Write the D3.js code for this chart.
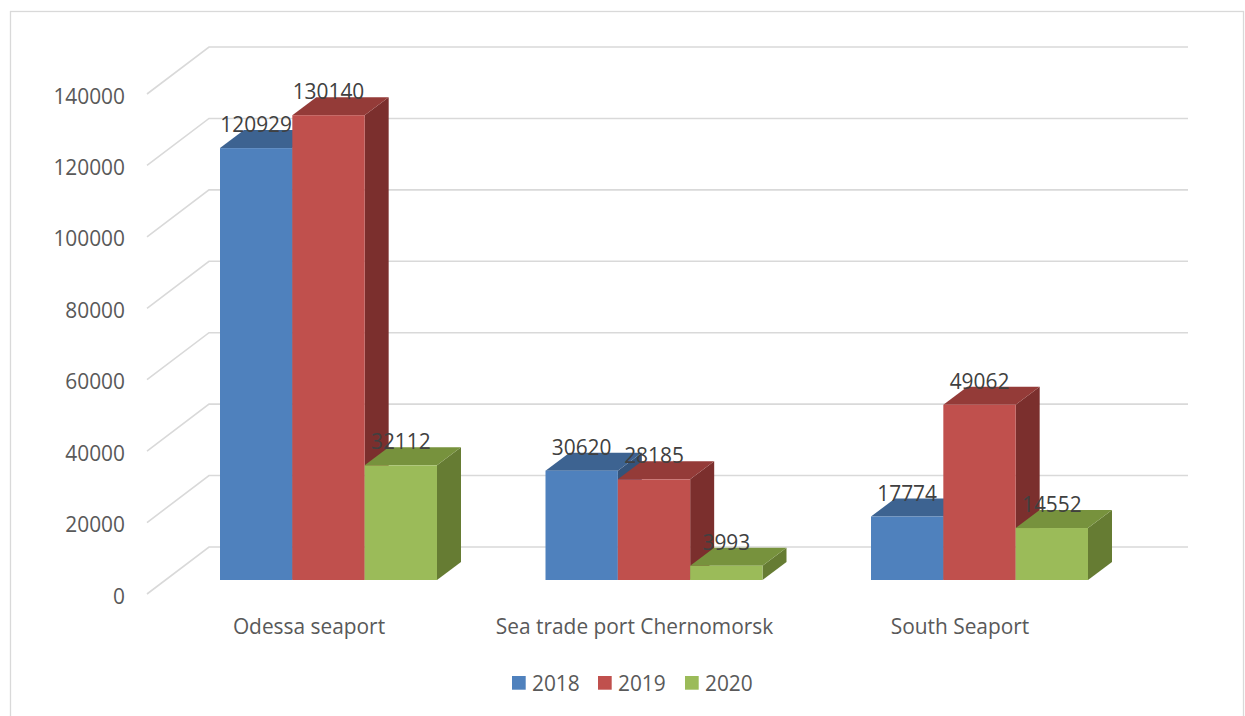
<!DOCTYPE html>
<html>
<head>
<meta charset="utf-8">
<script src="https://cdn.jsdelivr.net/npm/d3@7"></script>
<style>
  html, body { margin: 0; padding: 0; background: #fff; }
  svg { display: block; }
</style>
</head>
<body>
<svg id="chart" width="1245" height="716"></svg>
<script>
// ---- data ----
const categories = ["Odessa seaport", "Sea trade port Chernomorsk", "South Seaport"];
const years = ["2018", "2019", "2020"];
const values2018 = [120929, 30620, 17774];
const values2019 = [130140, 28185, 49062];
const values2020 = [32112, 3993, 14552];
const yTicks = [0, 20000, 40000, 60000, 80000, 100000, 120000, 140000];

const seriesValues = [values2018, values2019, values2020];
const colors = {
  front: ["#4F81BD", "#C0504D", "#9BBB59"],
  top:   ["#3D6391", "#943B38", "#77923D"],
  side:  ["#33537A", "#7B2F2D", "#667C33"]
};

// ---- layout ----
const svg = d3.select("#chart");
const FONT = "'Open Sans', 'Noto Sans', sans-serif";
const textColor = "#595959";
const gridColor = "#D9D9D9";

const backLeft = 209, backRight = 1188, backZeroY = 547;
const wallDx = -62, wallDy = 47;          // side wall (front end offset)
const frontZeroY = 580;                    // bar front faces base
const depthDx = 24, depthDy = -18;         // bar depth vector

const yH = d3.scaleLinear().domain([0, 140000]).range([0, 500]);

const x0 = d3.scaleBand().domain(categories)
  .range([165.75, 1142.25]).paddingInner(1/3).paddingOuter(1/6);
const x1 = d3.scaleBand().domain(years).range([0, x0.bandwidth()]);

// measure font size so that "140000" is ~71.7px wide
const probe = svg.append("text").attr("font-family", FONT).attr("font-size", 100).text("140000");
const pw = probe.node().getComputedTextLength();
probe.remove();
const fs = 100 * 71.7 / pw;

// border
svg.append("rect")
  .attr("x", 10.5).attr("y", 11.5).attr("width", 1233).attr("height", 720)
  .attr("fill", "none").attr("stroke", gridColor).attr("stroke-width", 1.3);

// gridlines: back wall + side wall
const grid = svg.append("g").attr("stroke", gridColor).attr("stroke-width", 1.6).attr("fill", "none");
yTicks.forEach(t => {
  const yb = backZeroY - yH(t);
  grid.append("path")
    .attr("d", `M${backRight},${yb}H${backLeft}L${backLeft + wallDx},${yb + wallDy}`);
});

// tick labels
svg.append("g").selectAll("text").data(yTicks).join("text")
  .attr("x", 125)
  .attr("y", d => backZeroY - yH(d) + wallDy + 1.5)
  .attr("text-anchor", "end")
  .attr("dominant-baseline", "central")
  .attr("font-family", FONT).attr("font-size", fs).attr("fill", textColor)
  .text(d => d);

// bars
const barsG = svg.append("g");
const labels = [];
categories.forEach((c, ci) => {
  years.forEach((yr, si) => {
    const v = seriesValues[si][ci];
    const xl = x0(c) + x1(yr);
    const xr = xl + x1.bandwidth();
    const yt = frontZeroY - yH(v);
    const yb = frontZeroY;
    // side face
    barsG.append("path")
      .attr("d", `M${xr},${yb}L${xr + depthDx},${yb + depthDy}L${xr + depthDx},${yt + depthDy}L${xr},${yt}Z`)
      .attr("fill", colors.side[si]);
    // top face
    barsG.append("path")
      .attr("d", `M${xl},${yt}L${xr},${yt}L${xr + depthDx},${yt + depthDy}L${xl + depthDx},${yt + depthDy}Z`)
      .attr("fill", colors.top[si]);
    // front face
    barsG.append("rect")
      .attr("x", xl).attr("y", yt).attr("width", x1.bandwidth()).attr("height", yb - yt)
      .attr("fill", colors.front[si]);
    labels.push({ v, x: (xl + xr) / 2, y: yt + depthDy - 6 });
  });
});

// data labels
svg.append("g").selectAll("text").data(labels).join("text")
  .attr("x", d => d.x).attr("y", d => d.y)
  .attr("text-anchor", "middle").attr("dominant-baseline", "central")
  .attr("font-family", FONT).attr("font-size", fs).attr("fill", "#404040")
  .text(d => d.v);

// category labels
svg.append("g").selectAll("text").data(categories).join("text")
  .attr("x", d => x0(d) + x0.bandwidth() / 2 - 19.5)
  .attr("y", 626)
  .attr("text-anchor", "middle").attr("dominant-baseline", "central")
  .attr("font-family", FONT).attr("font-size", fs).attr("fill", textColor)
  .text(d => d);

// legend
const legendX = [512, 598, 685];
const lg = svg.append("g").selectAll("g").data(years).join("g")
  .attr("transform", (d, i) => `translate(${legendX[i]},676)`);
lg.append("rect").attr("width", 13.7).attr("height", 13.7)
  .attr("fill", (d, i) => colors.front[i]);
lg.append("text").attr("x", 20).attr("y", 7).attr("dominant-baseline", "central")
  .attr("font-family", FONT).attr("font-size", fs).attr("fill", textColor)
  .text(d => d);
</script>
</body>
</html>
